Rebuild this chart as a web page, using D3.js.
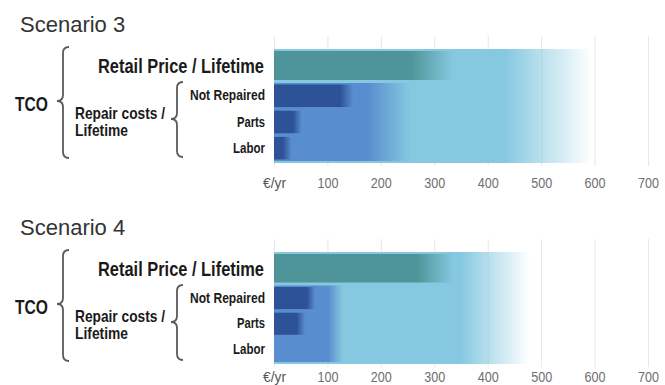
<!DOCTYPE html>
<html>
<head>
<meta charset="utf-8">
<script src="https://d3js.org/d3.v7.min.js"></script>
<style>
  body { margin: 0; background: #fff; }
  .narrow { font-family: "Liberation Sans", Arial, sans-serif; }
</style>
</head>
<body>
<svg id="mainsvg"></svg>
<script>
// values, in EUR per year
// each pair = [solid up to, faded out at]
const scenarios = ["Scenario 3", "Scenario 4"];
const rows = ["Not Repaired", "Parts", "Labor"];
const tco = [[430, 595], [348, 479]];
const retail = [[255, 335], [268, 335]];
const repair = [[174, 255], [101, 129]];
const notRepaired = [[124, 148], [62, 77]];
const parts = [[36, 52], [43, 58]];
const labor = [[17, 33], [0, 0]];
const xTicks = [0, 100, 200, 300, 400, 500, 600, 700];
const xTickLabels = ["€/yr", "100", "200", "300", "400", "500", "600", "700"];

const width = 665, height = 385;

// colours
const cTco = "#85c8e0", cRetail = "#4e9498", cRepair = "#588dcf", cDark = "#2e5298";

const x = d3.scaleLinear([0, 700], [274, 648]);

// panel geometry: top panel, bottom panel
const panels = [
  { off: 0,   top: 49,  split: 81.5, bottom: 163, pad: 11 },
  { off: 203, top: 252, split: 284,  bottom: 364, pad: 4 }
];

// no narrow font installed: squeeze the text to the widths seen in the picture
const rowWidths = { "Not Repaired": 75, "Parts": 28, "Labor": 32 };
function squeeze(sel, w) {
  sel.attr("textLength", w).attr("lengthAdjust", "spacingAndGlyphs");
}

const svg = d3.select("#mainsvg")
  .attr("width", width)
  .attr("height", height)
  .attr("viewBox", [0, 0, width, height]);

const defs = svg.append("defs");
let gid = 0;

// bar that is solid up to r[0] and fades to transparent at r[1]
function fadeBar(g, r, y0, y1, color) {
  if (r[1] <= 0) return;
  const id = "fade" + (gid++);
  const grad = defs.append("linearGradient").attr("id", id)
    .attr("x1", 0).attr("x2", 1).attr("y1", 0).attr("y2", 0);
  const stop = (x(r[0]) - x(0)) / (x(r[1]) - x(0));
  grad.append("stop").attr("offset", stop).attr("stop-color", color).attr("stop-opacity", 1);
  grad.append("stop").attr("offset", 1).attr("stop-color", color).attr("stop-opacity", 0);
  g.append("rect")
    .attr("x", x(0))
    .attr("y", y0)
    .attr("width", x(r[1]) - x(0))
    .attr("height", y1 - y0)
    .attr("fill", `url(#${id})`);
}

// curly brace opening to the right, tip on the left
function brace(g, xr, y0, y1, ytip) {
  const xm = xr - 6, xt = xr - 12, r = 6;
  const p = d3.path();
  p.moveTo(xr, y0);
  p.quadraticCurveTo(xm, y0, xm, y0 + r);
  p.lineTo(xm, ytip - r);
  p.quadraticCurveTo(xm, ytip, xt, ytip);
  p.quadraticCurveTo(xm, ytip, xm, ytip + r);
  p.lineTo(xm, y1 - r);
  p.quadraticCurveTo(xm, y1, xr, y1);
  g.append("path").attr("d", p.toString())
    .attr("fill", "none").attr("stroke", "#5a5a5a").attr("stroke-width", 1.8);
}

scenarios.forEach((name, i) => {
  const p = panels[i];
  const g = svg.append("g");

  // axis with gridlines drawn upward
  const axis = d3.axisBottom(x)
    .tickValues(xTicks)
    .tickFormat((d, k) => xTickLabels[k])
    .tickSizeInner(-(p.bottom + 3 - p.off - 36))
    .tickSizeOuter(0)
    .tickPadding(p.pad);
  const ax = g.append("g")
    .attr("transform", `translate(0,${p.bottom + 3})`)
    .call(axis);
  ax.select(".domain").remove();
  ax.selectAll(".tick line").attr("stroke", "#e6e6e6");
  ax.selectAll(".tick text")
    .attr("class", "narrow")
    .attr("y", p.pad)
    .attr("dy", "0.71em")
    .style("font-size", "15px")
    .attr("fill", "#6e6e6e")
    .call(squeeze, 21);
  ax.select(".tick text").attr("textLength", 23).attr("fill", "#555");

  // bars
  fadeBar(g, tco[i], p.top, p.bottom, cTco);
  fadeBar(g, retail[i], p.top + 2, p.split - 1.5, cRetail);
  fadeBar(g, repair[i], p.split + 1.5, p.bottom - 2, cRepair);

  const y = d3.scaleBand(rows, [p.split + 2.5, p.bottom - 3])
    .paddingInner(0.14).paddingOuter(0.02);
  const vals = [notRepaired[i], parts[i], labor[i]];
  rows.forEach((r, k) => fadeBar(g, vals[k], y(r), y(r) + y.bandwidth(), cDark));

  // title
  g.append("text")
    .attr("x", 20).attr("y", p.off + 32)
    .style("font", "22px 'Liberation Sans', Arial, sans-serif")
    .attr("fill", "#333")
    .text(name);

  // labels
  const lab = g.append("g").attr("class", "narrow")
    .attr("fill", "#1a1a1a").attr("font-weight", "bold");
  lab.append("text")
    .attr("x", 264).attr("y", p.off + 73)
    .attr("text-anchor", "end")
    .style("font-size", "20px")
    .text("Retail Price / Lifetime")
    .call(squeeze, 166);
  lab.selectAll(".row").data(rows).join("text")
    .attr("x", 265)
    .attr("y", d => y(d) + y.bandwidth() / 2)
    .attr("dy", "0.3em")
    .attr("text-anchor", "end")
    .style("font-size", "15px")
    .attr("textLength", d => rowWidths[d])
    .attr("lengthAdjust", "spacingAndGlyphs")
    .text(d => d);
  lab.append("text")
    .attr("x", 15).attr("y", p.off + 111)
    .style("font-size", "20px")
    .text("TCO")
    .call(squeeze, 33);
  lab.append("text")
    .attr("x", 75).attr("y", p.off + 119)
    .style("font-size", "16.5px")
    .text("Repair costs /")
    .call(squeeze, 90);
  lab.append("text")
    .attr("x", 75).attr("y", p.off + 136)
    .style("font-size", "16.5px")
    .text("Lifetime")
    .call(squeeze, 53);

  brace(g, 69, p.off + 47, p.off + 158, p.off + 101);
  brace(g, 183, p.off + 82, p.off + 157, p.off + 119);
});
</script>
</body>
</html>
